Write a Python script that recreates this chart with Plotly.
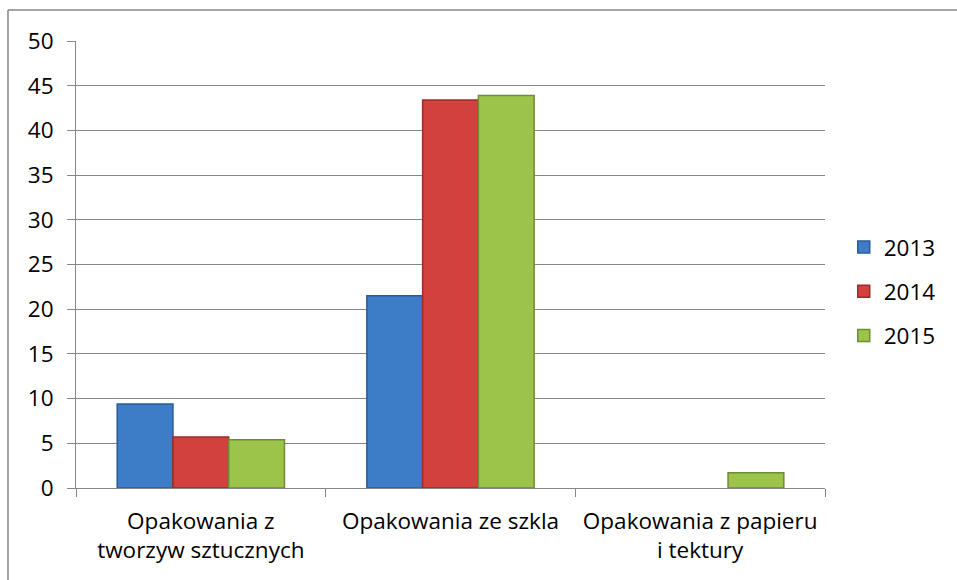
import plotly.graph_objects as go

categories = ["Opakowania z<br>tworzyw sztucznych", "Opakowania ze szkla", "Opakowania z papieru<br>i tektury"]
years = ["2013", "2014", "2015"]
values_2013 = [9.4, 21.5, None]
values_2014 = [5.7, 43.4, None]
values_2015 = [5.4, 43.9, 1.7]
y_ticks = [0, 5, 10, 15, 20, 25, 30, 35, 40, 45, 50]

series = [values_2013, values_2014, values_2015]
fills = ["#3d7cc6", "#d2413e", "#9cc44b"]
edges = ["#2b5b96", "#9b2c2a", "#6e8c31"]

FONT = "'Open Sans', 'Noto Sans', sans-serif"
FS = 22.5

fig = go.Figure()
for i, (yr, vals) in enumerate(zip(years, series)):
    fig.add_trace(go.Bar(
        x=categories, y=vals, name=yr, legendgroup=yr,
        marker=dict(color=fills[i], line=dict(color=edges[i], width=1.5)),
    ))

fig.update_layout(
    width=957, height=580,
    margin=dict(l=76, r=132, t=41, b=92),
    paper_bgcolor="white", plot_bgcolor="white",
    barmode="group", bargap=0.33, bargroupgap=0,
    font=dict(family=FONT, size=FS, color="black"),
    legend=dict(
        x=1.025, xanchor="left", y=0.44, yanchor="middle",
        font=dict(size=FS), tracegroupgap=12, bgcolor="rgba(0,0,0,0)",
    ),
    showlegend=True,
)
fig.update_xaxes(
    showgrid=False, showline=True, linecolor="#878787", linewidth=1,
    ticks="outside", tickson="boundaries", ticklen=8, tickcolor="#878787",
    tickfont=dict(size=FS), mirror=False, ticklabelstandoff=13,
)
fig.update_yaxes(
    range=[0, 50], tickvals=y_ticks, showgrid=True, gridcolor="#878787", gridwidth=1,
    showline=True, linecolor="#878787", linewidth=1, ticks="outside", ticklen=8,
    tickcolor="#878787", tickfont=dict(size=FS), zeroline=False, ticklabelstandoff=9,
)
# outer chart border (left and top edges visible)
fig.add_shape(type="line", xref="paper", yref="paper",
              x0=-0.0908, x1=-0.0908, y0=-0.4, y1=1.0694,
              line=dict(color="#878787", width=1.5), layer="below")
fig.add_shape(type="line", xref="paper", yref="paper",
              x0=-0.0908, x1=1.5, y0=1.0694, y1=1.0694,
              line=dict(color="#878787", width=1.5), layer="below")
fig.write_html("out.html",
               config={"displayModeBar": False},
               post_script="document.body.style.margin='0';document.body.style.overflow='hidden';")
